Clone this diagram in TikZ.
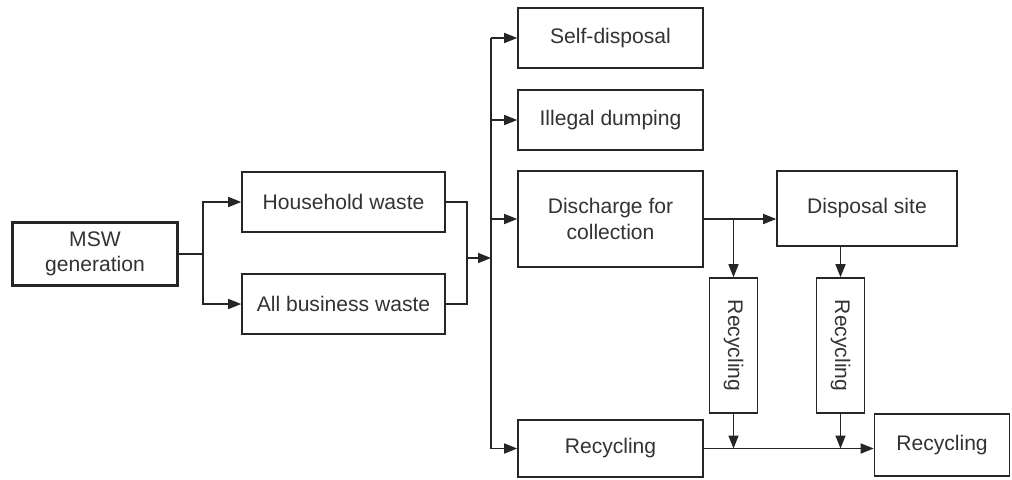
\documentclass[tikz,border=0pt]{standalone}
\usepackage{fontspec}
\setmainfont{Liberation Sans}
\usepackage{xcolor}
\usetikzlibrary{arrows.meta}

\begin{document}
\begin{tikzpicture}[
    box/.style={draw=black!85, line width=0.9pt, text=black!80, align=center,
      font=\fontsize{12}{14.5}\selectfont, inner sep=2pt},
    wire/.style={draw=black!85, line width=0.9pt},
    link/.style={wire, -{Triangle[length=2.6mm, width=2mm]}}
  ]
  \useasboundingbox (0, 0) rectangle (20.24, -9.58);

  % Source
  \node[box, line width=1.6pt, minimum width=3.3cm, minimum height=1.26cm]
     (msw) at (1.9, -5.08) {MSW\\generation};

  % Waste types
  \node[box, minimum width=4.06cm, minimum height=1.2cm] (house) at (6.87, -4.04) {Household waste};
  \node[box, minimum width=4.06cm, minimum height=1.2cm] (biz) at (6.87, -6.08) {All business waste};

  % Destinations
  \node[box, minimum width=3.7cm, minimum height=1.2cm] (self) at (12.21, -0.76) {Self-disposal};
  \node[box, minimum width=3.7cm, minimum height=1.2cm] (illegal) at (12.21, -2.4) {Illegal dumping};
  \node[box, minimum width=3.7cm, minimum height=1.92cm] (disch) at (12.21, -4.38) {Discharge for\\collection};
  \node[box, minimum width=3.7cm, minimum height=1.14cm] (recyc) at (12.21, -8.97) {Recycling};

  % Collection side
  \node[box, minimum width=3.6cm, minimum height=1.5cm] (site) at (17.34, -4.17) {Disposal site};
  \node[box, minimum width=0.96cm, minimum height=2.7cm] (rec1) at (14.67, -6.91) {\rotatebox{-90}{Recycling}};
  \node[box, minimum width=0.96cm, minimum height=2.7cm] (rec2) at (16.81, -6.91) {\rotatebox{-90}{Recycling}};
  \node[box, minimum width=2.7cm, minimum height=1.24cm] (out) at (18.84, -8.9) {Recycling};

  % Split and merge
  \draw[wire] (msw.east) -- ++(0.48, 0) coordinate (msplit);
  \draw[link] (msplit) |- (house.west);
  \draw[link] (msplit) |- (biz.west);
  \coordinate (merge) at (9.34, -5.16);
  \coordinate (bus) at (9.82, -5.16);
  \draw[wire] (house.east) -| (merge) |- (biz.east);
  \draw[link] (merge) -- (bus);

  % Bus to destinations
  \draw[wire] (bus |- self.west) -- (bus |- recyc.west);
  \foreach \n in {self, illegal, disch, recyc}
    \draw[link] (bus |- \n.west) -- (\n.west);

  % Collection flows
  \draw[link] (disch.east) -- (disch.east -| site.west);
  \draw[link] (rec1 |- disch.east) -- (rec1.north);
  \draw[link] (site.south -| rec2) -- (rec2.north);
  \draw[link] (recyc.east) -- (recyc.east -| out.west);
  \draw[link] (rec1.south) -- (rec1 |- recyc.east);
  \draw[link] (rec2.south) -- (rec2 |- recyc.east);
\end{tikzpicture}
\end{document}
